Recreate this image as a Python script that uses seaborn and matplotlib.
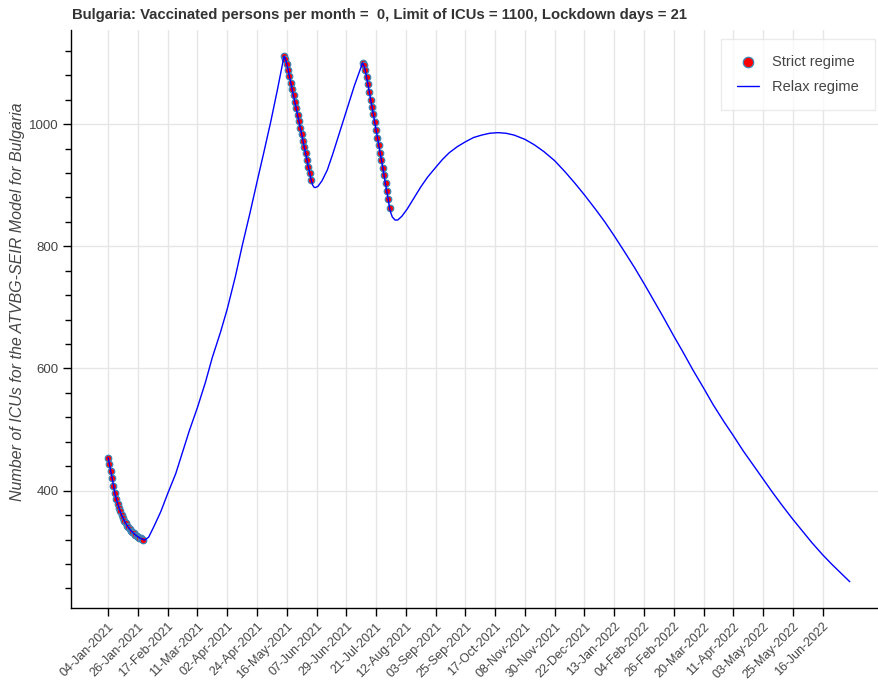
import numpy as np
import pandas as pd
import matplotlib
matplotlib.use('Agg')
import matplotlib.pyplot as plt
import matplotlib.dates as mdates
from matplotlib.ticker import MultipleLocator
import seaborn as sns

start = pd.Timestamp('2021-01-04')

# strict regime (lockdown) points, one per day
strict_days = list(range(0, 27)) + list(range(130, 151)) + list(range(188, 209))
strict_icu = [454, 443, 432, 421, 408, 396, 387, 379, 372, 366, 360, 355, 351, 347, 343,
              340, 337, 334, 332, 330, 328, 326, 325, 323, 322, 321, 320,
              1111, 1107, 1099, 1089, 1078, 1068, 1057, 1047, 1036, 1026, 1015, 1005,
              994, 984, 973, 962, 952, 941, 930, 920, 909,
              1100, 1096, 1088, 1077, 1065, 1053, 1040, 1028, 1016, 1003, 991, 978,
              966, 953, 941, 928, 916, 903, 890, 877, 863]

relax_days = [27, 30, 34, 39, 44, 50, 55, 60, 66, 72, 77, 83, 88, 94, 99, 105, 110, 115, 120, 125,
              151, 152, 153, 155, 158, 162, 166, 170, 174, 178, 182, 186,
              209, 210, 212, 214, 217, 221, 226, 231, 236, 242, 247, 252, 258, 264, 270, 276,
              282, 288, 294, 300, 308, 315, 322, 330, 338, 345, 352, 360, 367, 374, 381, 389,
              396, 403, 410, 418, 425, 432, 440, 447, 455, 462, 469, 476, 484, 491, 498, 506,
              513, 520, 528, 535, 542, 548]
relax_icu = [319, 324, 342, 366, 395, 428, 463, 498, 536, 578, 618, 659, 697, 750, 800, 856, 905, 953, 1002, 1055,
             901, 897, 896, 898, 907, 925, 951, 979, 1007, 1035, 1063, 1088,
             854, 848, 843, 843, 849, 861, 879, 897, 913, 929, 942, 953, 963, 971, 978, 982,
             985, 986, 985, 982, 975, 966, 955, 940, 921, 903, 884, 861, 840, 817, 793, 765,
             739, 712, 685, 653, 626, 598, 568, 541, 513, 490, 466, 444, 419, 397, 376, 353,
             334, 315, 295, 279, 264, 251]

tick_labels = ['04-Jan-2021', '26-Jan-2021', '17-Feb-2021', '11-Mar-2021', '02-Apr-2021',
               '24-Apr-2021', '16-May-2021', '07-Jun-2021', '29-Jun-2021', '21-Jul-2021',
               '12-Aug-2021', '03-Sep-2021', '25-Sep-2021', '17-Oct-2021', '08-Nov-2021',
               '30-Nov-2021', '22-Dec-2021', '13-Jan-2022', '04-Feb-2022', '26-Feb-2022',
               '20-Mar-2022', '11-Apr-2022', '03-May-2022', '25-May-2022', '16-Jun-2022']

strict_df = pd.DataFrame({'date': start + pd.to_timedelta(strict_days, unit='D'), 'icu': strict_icu})
line_df = pd.concat([strict_df,
                     pd.DataFrame({'date': start + pd.to_timedelta(relax_days, unit='D'), 'icu': relax_icu})])
line_df = line_df.sort_values('date')

sns.set_theme(style='white')
plt.rcParams['font.family'] = ['Liberation Sans', 'DejaVu Sans']
grey = '#444444'

fig = plt.figure(figsize=(8.79, 6.80), dpi=100)
ax = fig.add_axes([71 / 879, 1 - 608 / 680, 808 / 879, 578 / 680])

sns.scatterplot(data=strict_df, x='date', y='icu', ax=ax, color='red', edgecolor='#3b86b8',
                linewidth=0.9, s=22, label='Strict regime', zorder=2)
sns.lineplot(data=line_df, x='date', y='icu', ax=ax, color='blue', linewidth=1.0,
             label='Relax regime', zorder=3, estimator=None, sort=False)

ax.set_xlim(start - pd.Timedelta(days=27.4), start + pd.Timedelta(days=569.6))
ax.set_ylim(208, 1154)

ticks = pd.to_datetime(tick_labels, format='%d-%b-%Y')
ax.set_xticks(ticks)
ax.set_xticklabels(tick_labels, rotation=45, ha='right', rotation_mode='anchor')
ax.xaxis.set_major_formatter(mdates.DateFormatter('%d-%b-%Y'))
ax.yaxis.set_major_locator(MultipleLocator(200))
ax.yaxis.set_minor_locator(MultipleLocator(40))

ax.grid(True, which='major', color='#e6e6e6', linewidth=1)
for s in ['top', 'right']:
    ax.spines[s].set_visible(False)
for s in ['left', 'bottom']:
    ax.spines[s].set_color('black')
    ax.spines[s].set_linewidth(1)

ax.tick_params(axis='both', which='major', direction='out', length=6, width=1, color='black',
               labelcolor=grey, left=True, bottom=True)
ax.tick_params(axis='x', which='major', labelsize=9, pad=3)
ax.tick_params(axis='y', which='major', labelsize=9.5, pad=3)
ax.tick_params(axis='y', which='minor', direction='out', length=4, width=1, color='black', left=True)

ax.set_xlabel('')
ax.set_ylabel('Number of ICUs for the ATVBG-SEIR Model for Bulgaria', fontstyle='italic',
              fontsize=11.5, color=grey)
ax.yaxis.set_label_coords(-0.057, 0.53)

fig.text(72 / 879, 1 - 15 / 680,
         'Bulgaria: Vaccinated persons per month =  0, Limit of ICUs = 1100, Lockdown days = 21',
         fontsize=10.7, fontweight='bold', color='#333333', va='center', ha='left')

leg = ax.legend(loc='upper right', bbox_to_anchor=(0.995, 0.985), frameon=True, fancybox=False,
                fontsize=10.5, borderpad=1.1, labelspacing=0.8, handlelength=1.5, handletextpad=0.9,
                borderaxespad=0, markerscale=1.6)
leg.get_frame().set_edgecolor('#e6e6e6')
leg.get_frame().set_linewidth(1)
for t in leg.get_texts():
    t.set_color(grey)

fig.savefig('out.png', dpi=100)
